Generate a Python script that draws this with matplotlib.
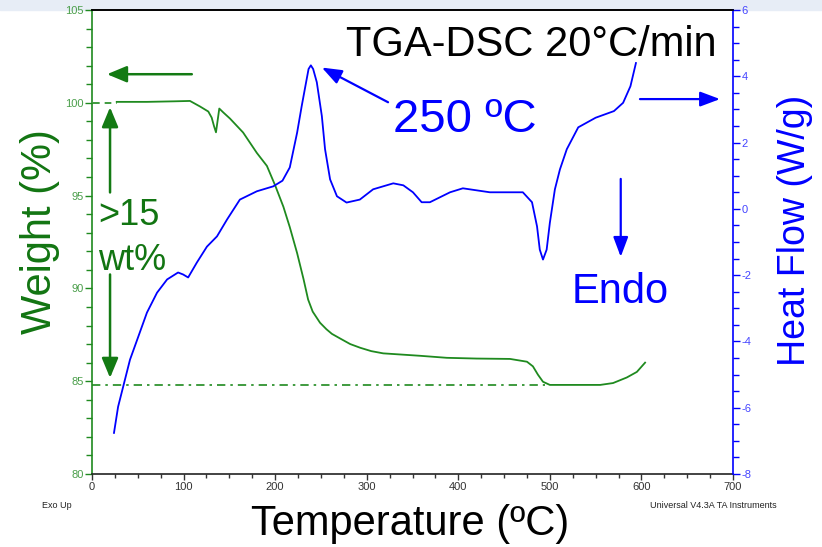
import matplotlib
matplotlib.use("Agg")
import matplotlib.pyplot as plt
from matplotlib.ticker import MultipleLocator
from matplotlib.patches import Rectangle

plt.rcParams['font.family'] = ['Liberation Sans', 'DejaVu Sans']
plt.rcParams['axes.unicode_minus'] = False

# ---- data ----
temp_w = [27, 60, 90, 107, 118, 127, 130.7, 133.2, 135.4, 139, 143.4, 150.7, 165, 180, 191,
          200, 209, 216, 224, 231, 236, 241, 249, 256, 262, 271, 282, 293, 305, 318, 358, 387.5, 420,
          456.5, 475, 481.5, 487, 492.5, 500, 555, 569, 584, 595, 604]
weight = [100.05, 100.05, 100.08, 100.1, 99.8, 99.53, 99.2, 98.75, 98.41, 99.69, 99.48, 99.15, 98.4, 97.3, 96.6,
          95.55, 94.4, 93.3, 91.9, 90.5, 89.4, 88.75, 88.15, 87.8, 87.55, 87.3, 87.0, 86.8, 86.62, 86.5, 86.37, 86.26, 86.22,
          86.2, 86.05, 85.8, 85.35, 84.97, 84.8, 84.8, 84.9, 85.2, 85.5, 86.0]

temp_hf = [24, 28.5, 34, 41.5, 50.5, 60, 71, 82, 94, 99.5, 105, 114.5, 125.5, 136.5, 147.5,
           161.5, 180, 198, 208, 216, 224, 229, 233, 236.5, 239, 241.5, 245.5, 251, 254.5, 260, 267.5,
           278, 292.5, 307, 329, 340, 350.5, 360, 369, 380, 391, 405, 434.5, 470.5, 480.5,
           486, 489, 492.5, 496.5, 500, 505.5, 511, 518.5, 531, 550, 570, 580, 588, 594]
heat_flow = [-6.76, -5.97, -5.37, -4.55, -3.86, -3.13, -2.53, -2.13, -1.92, -1.98, -2.07, -1.62, -1.14, -0.83, -0.32,
             0.28, 0.53, 0.68, 0.85, 1.25, 2.3, 3.1, 3.7, 4.22, 4.33, 4.22, 3.82, 2.8, 1.8, 0.89, 0.38,
             0.19, 0.28, 0.59, 0.77, 0.71, 0.50, 0.2, 0.2, 0.35, 0.5, 0.62, 0.5, 0.5, 0.2,
             -0.53, -1.23, -1.53, -1.23, -0.42, 0.59, 1.19, 1.8, 2.46, 2.75, 2.95, 3.2, 3.7, 4.4]

start_ref_T = [1, 27]
start_ref_W = [100.0, 100.0]
final_ref_T = [0, 495]
final_ref_W = [84.77, 84.77]

x_ticks = [0, 100, 200, 300, 400, 500, 600, 700]
w_ticks = [80, 85, 90, 95, 100, 105]
hf_ticks = [-8, -6, -4, -2, 0, 2, 4, 6]

GREEN = '#1f8a1f'
GREEN_TXT = '#127512'
BLUE = '#0000ff'

fig = plt.figure(figsize=(8.22, 5.47), dpi=100)
fig.patches.append(Rectangle((0, 537/547), 1, 10/547, transform=fig.transFigure,
                             color='#e7edf6', zorder=-10))
ax = fig.add_axes([92/822, 1-474/547, (733-92)/822, (474-10)/547])
ax2 = ax.twinx()

ax.plot(temp_w, weight, color=GREEN, lw=1.3)
ax.plot(start_ref_T, start_ref_W, color=GREEN, lw=1.2, dashes=(4, 3))
ax.plot(final_ref_T, final_ref_W, color=GREEN, lw=1.2, dashes=(5, 3, 1.5, 3))
ax2.plot(temp_hf, heat_flow, color=BLUE, lw=1.3)

ax.set_xlim(0, 700)
ax.set_ylim(80, 105)
ax2.set_ylim(-8, 6)
ax.set_xticks(x_ticks)
ax.set_yticks(w_ticks)
ax2.set_yticks(hf_ticks)
ax.xaxis.set_minor_locator(MultipleLocator(25))
ax.yaxis.set_minor_locator(MultipleLocator(1))
ax2.yaxis.set_minor_locator(MultipleLocator(0.5))

ax.tick_params(axis='x', which='major', length=4, width=1, colors='#333333', labelsize=8, pad=2)
ax.tick_params(axis='x', which='minor', length=3, width=1, colors='#333333')
ax.tick_params(axis='y', which='major', length=5, width=1, colors=GREEN, labelcolor='#4a9e4a', labelsize=8, pad=1)
ax.tick_params(axis='y', which='minor', length=4, width=1, colors=GREEN)
ax2.tick_params(axis='y', which='major', length=5, width=1, colors=BLUE, labelcolor='#4444ff', labelsize=8, pad=1)
ax2.tick_params(axis='y', which='minor', length=4, width=1, colors=BLUE)

for a in (ax, ax2):
    for s in a.spines.values():
        s.set_linewidth(1.2)
ax.spines['left'].set_color(GREEN)
ax.spines['bottom'].set_color('#222222')
ax.spines['top'].set_color('black')
ax.spines['right'].set_visible(False)
ax2.spines['left'].set_visible(False)
ax2.spines['bottom'].set_visible(False)
ax2.spines['top'].set_color('black')
ax2.spines['right'].set_color(BLUE)

# ---- texts ----
fig.text(40/822, 1-232/547, 'Weight (%)', rotation=90, ha='center', va='center',
         color=GREEN_TXT, fontsize=30)
fig.text(795/822, 1-230/547, 'Heat Flow (W/g)', rotation=90, ha='center', va='center',
         color=BLUE, fontsize=27)
fig.text(410/822, 1-535/547, 'Temperature (ºC)', ha='center', va='baseline',
         color='black', fontsize=30)
fig.text(42/822, 1-506/547, 'Exo Up', ha='left', va='center', fontsize=6.5, color='#222222')
fig.text(650/822, 1-506/547, 'Universal V4.3A TA Instruments', ha='left', va='center',
         fontsize=6.5, color='#222222')

ax.text(480, 102.5, 'TGA-DSC 20°C/min', ha='center', va='baseline', fontsize=30, color='black')
ax.text(407, 98.41, '250 ºC', ha='center', va='baseline', fontsize=34, color=BLUE)
ax.text(576.6, 89.23, 'Endo', ha='center', va='baseline', fontsize=30, color=BLUE)
ax.text(6.5, 93.44, '>15', ha='left', va='baseline', fontsize=26, color=GREEN_TXT)
ax.text(6.5, 91.0, 'wt%', ha='left', va='baseline', fontsize=26, color=GREEN_TXT)

arrow_g = dict(arrowstyle='-|>,head_length=1.2,head_width=0.5', color='#137a13', lw=1.8,
               shrinkA=0, shrinkB=0)
arrow_b = dict(arrowstyle='-|>,head_length=1.2,head_width=0.45', color=BLUE, lw=1.6,
               shrinkA=0, shrinkB=0)
ax.annotate('', xy=(16.4, 101.54), xytext=(109, 101.54), arrowprops=arrow_g)
ax.annotate('', xy=(19.7, 99.76), xytext=(19.7, 95.17), arrowprops=arrow_g)
ax.annotate('', xy=(19.7, 85.18), xytext=(19.7, 90.75), arrowprops=arrow_g)
ax.annotate('', xy=(251, 101.9), xytext=(323.3, 100.03), arrowprops=arrow_b)
ax.annotate('', xy=(577.4, 91.7), xytext=(577.4, 95.9), arrowprops=arrow_b)
ax.annotate('', xy=(685.8, 100.2), xytext=(598.4, 100.2), arrowprops=arrow_b)

fig.savefig('out.png', dpi=100)
